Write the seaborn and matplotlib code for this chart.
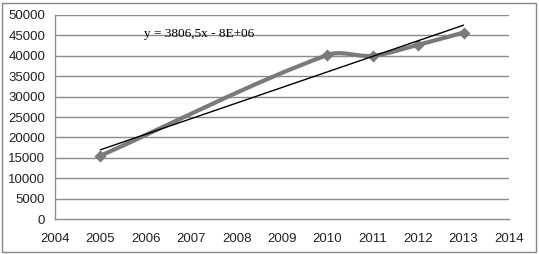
import matplotlib
matplotlib.use("Agg")
import matplotlib.pyplot as plt
import numpy as np
import pandas as pd
import seaborn as sns
from matplotlib.path import Path
from matplotlib.patches import PathPatch, Rectangle

# values
years = [2005, 2010, 2011, 2012, 2013]
values = [15500, 40200, 40000, 42700, 45700]
x_ticks = list(range(2004, 2015))
y_ticks = list(range(0, 50001, 5000))
equation = "y = 3806,5x - 8E+06"

GRID = "#8c8c8c"
SERIES = "#7a7a7a"

sns.set_theme(style="white")
plt.rcParams["font.family"] = ["Liberation Sans", "DejaVu Sans"]

df = pd.DataFrame({"year": years, "value": values})

fig = plt.figure(figsize=(5.39, 2.54), dpi=100)
ax = fig.add_axes([55 / 539, 35 / 254, 454 / 539, 204 / 254])
ax.set_xlim(x_ticks[0], x_ticks[-1])
ax.set_ylim(y_ticks[0], y_ticks[-1])

# outer chart border
fig.patches.append(Rectangle((2 / 539, 2 / 254), 534 / 539, 249 / 254,
                             transform=fig.transFigure, fill=False,
                             edgecolor="#868686", linewidth=1.0))

for yv in y_ticks[1:]:
    ax.axhline(yv, color=GRID, linewidth=1.0, zorder=0)


def smooth_path(xs, ys, tension=1 / 3):
    """Excel-like smoothed line: cubic Bezier pieces built in display space."""
    pts = ax.transData.transform(np.column_stack([xs, ys]))
    n = len(pts)
    verts = [pts[0]]
    codes = [Path.MOVETO]
    for i in range(n - 1):
        p0 = pts[max(i - 1, 0)]
        p1 = pts[i]
        p2 = pts[i + 1]
        p3 = pts[min(i + 2, n - 1)]
        seg = np.linalg.norm(p2 - p1)
        d1 = p2 - p0
        d2 = p3 - p1
        c1 = p1 + tension * seg * d1 / np.linalg.norm(d1)
        c2 = p2 - tension * seg * d2 / np.linalg.norm(d2)
        verts += [c1, c2, p2]
        codes += [Path.CURVE4] * 3
    verts = ax.transData.inverted().transform(np.array(verts))
    return Path(verts, codes)


ax.add_patch(PathPatch(smooth_path(df["year"], df["value"]), facecolor="none",
                       edgecolor=SERIES, linewidth=3.0, zorder=3,
                       capstyle="round", joinstyle="round"))
sns.scatterplot(data=df, x="year", y="value", marker="D", s=38,
                color=SERIES, edgecolor=SERIES, linewidth=0, zorder=4, ax=ax)
sns.regplot(data=df, x="year", y="value", scatter=False, ci=None,
            color="black", line_kws={"linewidth": 1.0, "zorder": 5}, ax=ax)

ax.text(2005.95, 45300, equation, family=["Liberation Serif", "DejaVu Serif"],
        fontsize=9.5, color="black", va="center", ha="left")

ax.set_xticks(x_ticks)
ax.set_yticks(y_ticks)
ax.set_xlabel("")
ax.set_ylabel("")
ax.tick_params(axis="both", labelsize=9.5, labelcolor="#222222", colors=GRID,
               length=4, width=1.0, direction="out")
ax.tick_params(axis="x", pad=6)
ax.tick_params(axis="y", pad=3)
for lbl in ax.get_xticklabels() + ax.get_yticklabels():
    lbl.set_color("#222222")
for side in ("top", "right"):
    ax.spines[side].set_visible(False)
for side in ("left", "bottom"):
    ax.spines[side].set_color(GRID)
    ax.spines[side].set_linewidth(1.0)

fig.savefig("out.png", dpi=100)
